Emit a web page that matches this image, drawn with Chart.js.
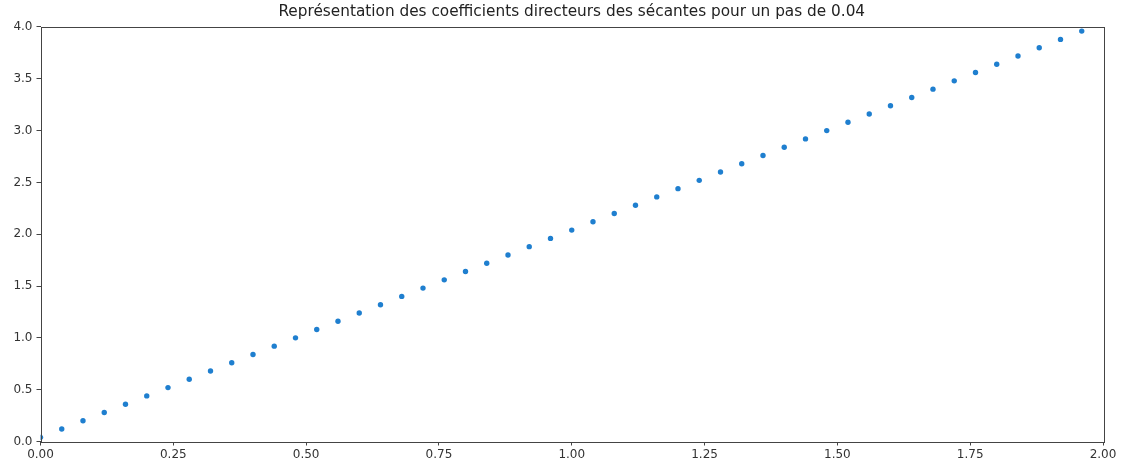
<!DOCTYPE html>
<html>
<head>
<meta charset="utf-8">
<script src="https://cdn.jsdelivr.net/npm/chart.js@4"></script>
<style>
  html, body { margin: 0; padding: 0; background: #fff; }
  #wrap { width: 1122px; height: 463px; }
</style>
</head>
<body>
<div id="wrap"><canvas id="c" width="1122" height="463"></canvas></div>
<script>
// Points x where the secant starts, step 0.04
const xValues = [
  0.00, 0.04, 0.08, 0.12, 0.16, 0.20, 0.24, 0.28, 0.32, 0.36,
  0.40, 0.44, 0.48, 0.52, 0.56, 0.60, 0.64, 0.68, 0.72, 0.76,
  0.80, 0.84, 0.88, 0.92, 0.96, 1.00, 1.04, 1.08, 1.12, 1.16,
  1.20, 1.24, 1.28, 1.32, 1.36, 1.40, 1.44, 1.48, 1.52, 1.56,
  1.60, 1.64, 1.68, 1.72, 1.76, 1.80, 1.84, 1.88, 1.92, 1.96
];
// Slope of each secant
const slopeValues = [
  0.04, 0.12, 0.20, 0.28, 0.36, 0.44, 0.52, 0.60, 0.68, 0.76,
  0.84, 0.92, 1.00, 1.08, 1.16, 1.24, 1.32, 1.40, 1.48, 1.56,
  1.64, 1.72, 1.80, 1.88, 1.96, 2.04, 2.12, 2.20, 2.28, 2.36,
  2.44, 2.52, 2.60, 2.68, 2.76, 2.84, 2.92, 3.00, 3.08, 3.16,
  3.24, 3.32, 3.40, 3.48, 3.56, 3.64, 3.72, 3.80, 3.88, 3.96
];
const xTicks = [0, 0.25, 0.5, 0.75, 1, 1.25, 1.5, 1.75, 2];
const yTicks = [0, 0.5, 1, 1.5, 2, 2.5, 3, 3.5, 4];
const titleText = "Représentation des coefficients directeurs des sécantes pour un pas de 0.04";

const points = xValues.map((x, i) => ({ x: x, y: slopeValues[i] }));

// Frame around the plotting area (all four spines)
const frame = {
  id: 'frame',
  afterDatasetsDraw(chart) {
    const a = chart.chartArea, ctx = chart.ctx;
    ctx.save();
    ctx.strokeStyle = '#444';
    ctx.lineWidth = 1;
    ctx.strokeRect(Math.round(a.left) + 0.5, Math.round(a.top) + 0.5,
                   Math.round(a.right - a.left), Math.round(a.bottom - a.top));
    ctx.restore();
  }
};

// Centre the title over the plotting area rather than the whole canvas
const centreTitle = {
  id: 'centreTitle',
  afterLayout(chart) {
    const t = chart.titleBlock;
    if (t) {
      t.left = chart.chartArea.left;
      t.right = chart.chartArea.right;
    }
  }
};

new Chart(document.getElementById('c'), {
  type: 'scatter',
  data: {
    datasets: [{
      data: points,
      backgroundColor: '#1f7fcf',
      borderColor: '#1f7fcf',
      borderWidth: 0,
      pointRadius: 2.7,
      pointHoverRadius: 2.7
    }]
  },
  options: {
    responsive: false,
    animation: false,
    devicePixelRatio: 1,
    layout: { padding: { left: 0, right: 0, top: 0, bottom: 0 } },
    plugins: {
      legend: { display: false },
      tooltip: { enabled: false },
      title: {
        display: true,
        text: titleText,
        color: '#222',
        font: { family: 'DejaVu Sans', size: 15.3, weight: 'normal', lineHeight: 1.2 },
        padding: { top: 3, bottom: 5.6 }
      }
    },
    scales: {
      x: {
        type: 'linear',
        min: 0, max: 2,
        afterBuildTicks(s) { s.ticks = xTicks.map(v => ({ value: v })); },
        afterFit(s) { s.height = 21.5; },
        border: { display: false },
        grid: { drawOnChartArea: false, drawTicks: true, tickLength: 4, color: '#444', tickColor: '#444' },
        ticks: {
          color: '#333',
          padding: 2,
          maxRotation: 0,
          autoSkip: false,
          font: { family: 'DejaVu Sans', size: 12 },
          callback: v => Number(v).toFixed(2)
        }
      },
      y: {
        type: 'linear',
        min: 0, max: 4,
        afterBuildTicks(s) { s.ticks = yTicks.map(v => ({ value: v })); },
        afterFit(s) { s.width = 40.5; },
        border: { display: false },
        grid: { drawOnChartArea: false, drawTicks: true, tickLength: 4, color: '#444', tickColor: '#444' },
        ticks: {
          color: '#333',
          padding: 4,
          autoSkip: false,
          font: { family: 'DejaVu Sans', size: 12 },
          callback: v => Number(v).toFixed(1)
        }
      },
      // empty right-hand margin
      yRight: {
        type: 'linear',
        position: 'right',
        min: 0, max: 4,
        afterFit(s) { s.width = 19; },
        border: { display: false },
        grid: { display: false },
        ticks: { display: false }
      }
    }
  },
  plugins: [frame, centreTitle]
});
</script>
</body>
</html>
